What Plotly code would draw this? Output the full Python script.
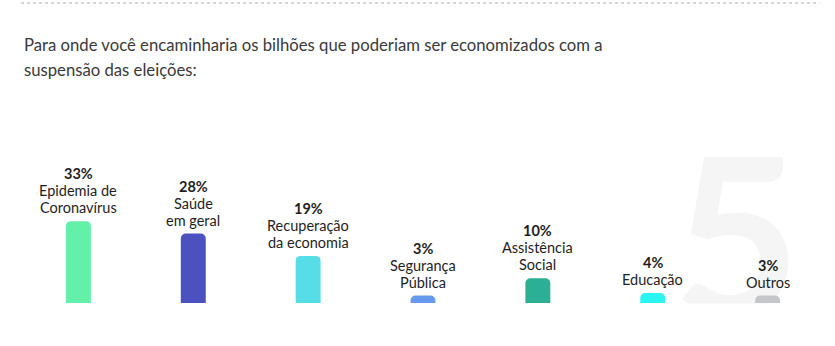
import plotly.graph_objects as go

categories = ["Epidemia de<br>Coronavírus", "Saúde<br>em geral", "Recuperação<br>da economia",
              "Segurança<br>Pública", "Assistência<br>Social", "Educação", "Outros"]
values = [33, 28, 19, 3, 10, 4, 3]
colors = ["#63F0A8", "#4B52BF", "#56DDE8", "#6699EE", "#2BB095", "#2BF5F0", "#C4C6C9"]
title_lines = ["Para onde você encaminharia os bilhões que poderiam ser economizados com a",
               "suspensão das eleições:"]
watermark = "5"

W, H = 835, 346
ml, mr, mt, mb = 21, 9.5, 100, 43
ph = H - mt - mb
pw = W - ml - mr
px_per_pct = 2.48


def px_x(p):
    return (p - ml) / pw


def px_y(p):
    return (H - mb - p) / ph


fig = go.Figure()
fig.add_trace(go.Bar(
    x=list(range(len(values))), y=values,
    marker=dict(color=colors, line=dict(width=0)),
    hoverinfo="skip",
))

annotations = []
line_step = 17
for i, (c, v) in enumerate(zip(categories, values)):
    lines = [f"<b>{v}%</b>"] + c.split("<br>")
    n = len(lines)
    for k, ln in enumerate(lines):
        annotations.append(dict(
            x=i, y=v, xref="x", yref="y", yanchor="bottom", xanchor="center",
            text=ln, showarrow=False, align="center",
            font=dict(family="Lato", size=14.5, color="#1E1E1E"),
            yshift=3 + (n - 1 - k) * line_step,
        ))

for j, line in enumerate(title_lines):
    annotations.append(dict(
        x=px_x(22), y=px_y(53 + 25 * j), xref="paper", yref="paper",
        xanchor="left", yanchor="bottom", yshift=-4, text=line, showarrow=False,
        font=dict(family="Lato", size=16.7, color="#3A3A3A"),
    ))

fig.update_layout(
    width=W, height=H,
    margin=dict(l=ml, r=mr, t=mt, b=mb, pad=0),
    paper_bgcolor="white", plot_bgcolor="rgba(0,0,0,0)",
    bargap=0.783, barcornerradius=5, showlegend=False,
    xaxis=dict(range=[-0.5, len(values) - 0.5], visible=False, fixedrange=True),
    yaxis=dict(range=[0, ph / px_per_pct], visible=False, fixedrange=True),
    annotations=annotations,
    shapes=[
        dict(type="line", xref="paper", yref="paper",
             x0=0, x1=px_x(820), y0=px_y(3), y1=px_y(3),
             line=dict(color="#C8C8C8", width=1.5, dash="dot")),
        dict(type="rect", xref="paper", yref="paper", layer="below",
             x0=px_x(677), x1=px_x(797), y0=px_y(323), y1=px_y(133),
             line=dict(width=0), fillcolor="rgba(0,0,0,0)",
             label=dict(text=f"<b>{watermark}</b>",
                        font=dict(family="Lato", size=220, color="#F5F5F5"),
                        textposition="middle center")),
        dict(type="rect", xref="paper", yref="paper", layer="below",
             x0=px_x(660), x1=px_x(835), y0=px_y(346), y1=px_y(303.5),
             line=dict(width=0), fillcolor="white"),
    ],
)

fig.write_html("out.html")
